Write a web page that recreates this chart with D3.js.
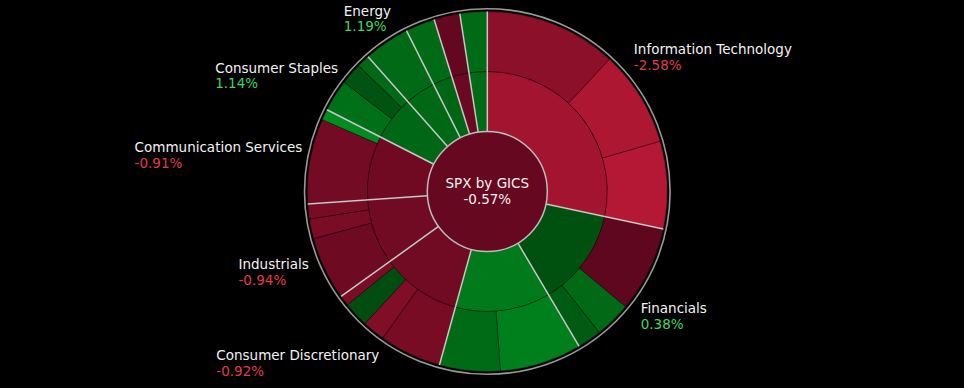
<!DOCTYPE html>
<html><head><meta charset="utf-8">
<script src="https://cdn.jsdelivr.net/npm/d3@7"></script>
<style>
html,body{margin:0;padding:0;background:#000;}
svg{display:block;}
text{font-family:"DejaVu Sans",sans-serif;}
</style></head>
<body><svg id="c" width="964" height="388"></svg>
<script>
// ---- data ----
const indexName = "SPX by GICS";
const indexChange = -0.57;
const sectors = ["Information Technology","Financials","Health Care","Consumer Discretionary","Industrials","Communication Services","Consumer Staples","Energy","Utilities","Real Estate","Materials"];
const sectorChange = [-2.58, 0.38, 1.79, -0.92, -0.94, -0.91, 1.14, 1.19, 1.10, -0.70, 1.24];
const industries = [
  ["Software & Services","Technology Hardware & Equipment","Semiconductors"],
  ["Financial Services","Banks","Insurance"],
  ["Pharmaceuticals & Biotechnology","Health Care Equipment & Services"],
  ["Discretionary Distribution & Retail","Automobiles & Components","Consumer Services","Consumer Durables & Apparel"],
  ["Capital Goods","Transportation","Commercial & Professional Services"],
  ["Media & Entertainment","Telecommunication Services"],
  ["Food, Beverage & Tobacco","Staples Distribution & Retail","Household & Personal Products"],
  ["Energy"],
  ["Utilities"],
  ["Real Estate"],
  ["Materials"]
];
const industryWeight = [
  [11.86, 8.64, 7.83],
  [7.72, 3.25, 2.17],
  [7.36, 5.44],
  [5.58, 2.03, 2.28, 0.92],
  [5.69, 1.78, 1.33],
  [7.64, 0.97],
  [2.86, 1.97, 1.14],
  [4.11],
  [2.64],
  [2.33],
  [2.44]
];
const industryChange = [
  [-1.83, -2.97, -3.17],
  [-0.33, 1.24, 0.76],
  [2.00, 1.28],
  [-1.17, -1.43, 0.24, -1.23],
  [-0.83, -1.23, -1.17],
  [-1.03, 2.40],
  [1.45, 0.45, 1.17],
  [1.24],
  [1.24],
  [-0.50],
  [1.28]
];

// ---- layout ----
const W = 964, H = 388, cx = 487.3, cy = 191.5;
const svg = d3.select("#c");
const g = svg.append("g").attr("transform", `translate(${cx},${cy})`);

const redI = d3.interpolateRgb("rgb(85,5,28)", "rgb(190,26,54)");
const grnI = d3.interpolateRgb("rgb(0,70,13)", "rgb(0,172,40)");
const colorFor = c => c < 0 ? redI(Math.min(1, -c / 3.5)) : grnI(Math.min(1, c / 3.5));

const rootData = {
  name: indexName, change: indexChange,
  children: sectors.map((s, i) => ({
    name: s, change: sectorChange[i],
    children: industries[i].map((n, j) => ({ name: n, value: industryWeight[i][j], change: industryChange[i][j] }))
  }))
};
const root = d3.partition().size([2 * Math.PI, 3])(d3.hierarchy(rootData).sum(d => d.value || 0));
const rad = d3.scaleLinear().domain([0, 1, 2, 3]).range([0, 60, 120, 180]);

const arc = d3.arc()
  .startAngle(d => d.x0).endAngle(d => d.x1)
  .innerRadius(d => rad(d.y0)).outerRadius(d => rad(d.y1));

g.selectAll("path.seg").data(root.descendants().filter(d => d.depth > 0))
  .join("path").attr("class", "seg")
  .attr("d", arc)
  .attr("fill", d => colorFor(d.data.change))
  .attr("stroke", "rgba(0,0,0,0.4)").attr("stroke-width", 0.8);

// sector separators
g.selectAll("line.sep").data(root.children).join("line").attr("class", "sep")
  .each(function (d) {
    const p0 = d3.pointRadial(d.x0, rad(1)), p1 = d3.pointRadial(d.x0, rad(3));
    d3.select(this).attr("x1", p0[0]).attr("y1", p0[1]).attr("x2", p1[0]).attr("y2", p1[1]);
  })
  .attr("stroke", "#c8c8c8").attr("stroke-width", 1.5);

// center
g.append("circle").attr("r", rad(1)).attr("fill", colorFor(indexChange))
  .attr("stroke", "#bdbdbd").attr("stroke-width", 1.5);
g.append("circle").attr("r", rad(3) + 2.8).attr("fill", "none")
  .attr("stroke", "#9a9a9a").attr("stroke-width", 1.6);

g.append("text").attr("x", 0).attr("y", -3.5).attr("text-anchor", "middle")
  .attr("fill", "#f2f2f2").attr("font-size", 13.5).text(indexName);
g.append("text").attr("x", 0).attr("y", 12).attr("text-anchor", "middle")
  .attr("fill", "#f2f2f2").attr("font-size", 13.5).text(indexChange.toFixed(2) + "%");

// labels
const labelR = 195, lineH = 15.6;
const nudge = {
  "Information Technology": [-5, -12],
  "Financials": [-5, 11],
  "Consumer Discretionary": [3.5, 11.5],
  "Industrials": [5, 14.5],
  "Communication Services": [6, 2.5],
  "Consumer Staples": [5, 3.4],
  "Energy": [13, -11.7]
};
const lg = svg.append("g");
root.children.forEach(d => {
  const share = (d.x1 - d.x0) / (2 * Math.PI);
  if (share < 0.035) return;
  const a = (d.x0 + d.x1) / 2;
  const [px, py] = d3.pointRadial(a, labelR);
  const nd = nudge[d.data.name] || [0, 0];
  const b1 = cy + py - 2.75 + nd[1];
  if (b1 + lineH + 4 > H || b1 - 12 < 0) return;
  const t = lg.append("g");
  const t1 = t.append("text").attr("y", b1).attr("fill", "#f2f2f2").attr("font-size", 13.5).text(d.data.name);
  const t2 = t.append("text").attr("y", b1 + lineH).attr("font-size", 13.5)
    .attr("fill", d.data.change < 0 ? "#e23a50" : "#3fd85c").text(d.data.change.toFixed(2) + "%");
  const w = Math.max(t1.node().getComputedTextLength(), t2.node().getComputedTextLength());
  const x = px > 0 ? cx + px + nd[0] : cx + px - w + nd[0];
  t1.attr("x", x); t2.attr("x", x);
});
</script></body></html>
